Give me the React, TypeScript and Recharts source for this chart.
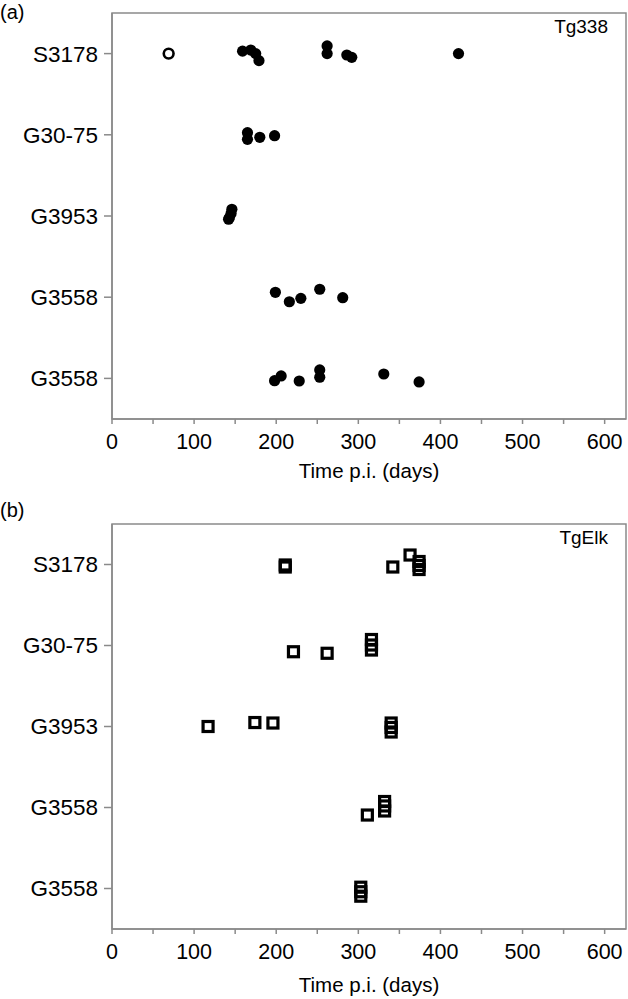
import { ScatterChart, Scatter, XAxis, YAxis, ReferenceArea } from "recharts";

// row labels, top to bottom
const categories = ["S3178", "G30-75", "G3953", "G3558", "G3558"];
const xTicks = [0, 50, 100, 150, 200, 250, 300, 350, 400, 450, 500, 550, 600];

// (a) Tg338 — days per row, plus small vertical jitter (fraction of a row)
const tg338Days = [
  [159, 169, 175, 179, 262, 262, 286, 292, 422],
  [165, 165, 180, 198],
  [146, 145, 143, 142],
  [199, 216, 230, 253, 281],
  [198, 206, 228, 253, 253, 331, 374],
];
const tg338Jitter = [
  [-0.03, -0.044, 0, 0.087, -0.094, 0, 0.017, 0.046, 0],
  [-0.026, 0.056, 0.031, 0.011],
  [-0.083, -0.03, 0.02, 0.04],
  [-0.06, 0.056, 0.014, -0.098, 0.006],
  [0.028, -0.03, 0.032, -0.104, -0.014, -0.054, 0.044],
];
const tg338OpenDays = [[69], [], [], [], []];
const tg338OpenJitter = [[0], [], [], [], []];

// (b) TgElk
const tgElkDays = [
  [211, 211, 342, 363, 374, 374, 374],
  [221, 262, 316, 316, 316],
  [117, 174, 196, 340, 340, 340],
  [311, 332, 332, 332],
  [303, 303, 303],
];
const tgElkJitter = [
  [0.006, 0.031, 0.031, -0.117, -0.037, 0.012, 0.062],
  [0.077, 0.096, -0.074, -0.006, 0.056],
  [0, -0.049, -0.043, -0.043, 0.012, 0.068],
  [0.093, -0.074, -0.019, 0.043],
  [-0.016, 0.04, 0.095],
];

const FONT = "'Liberation Sans', Arial, sans-serif";
const AXIS = "#8a8a8a";

function toPoints(days: number[][], jitter: number[][]) {
  const out: { x: number; y: number }[] = [];
  days.forEach((row, i) => row.forEach((d, j) => out.push({ x: d, y: i + 1 + jitter[i][j] })));
  return out;
}

const FilledDot = (p: any) => <circle cx={p.cx} cy={p.cy} r={5.6} fill="#000" />;
const OpenDot = (p: any) => <circle cx={p.cx} cy={p.cy} r={4.9} fill="#fff" stroke="#000" strokeWidth={2.6} />;
const OpenSquare = (p: any) => (
  <rect x={p.cx - 5} y={p.cy - 5} width={10} height={10} fill="none" stroke="#000" strokeWidth={3.2} />
);

function Panel({ top, height, bottomPad, xAxisHeight, labelOffset, children }: any) {
  return (
    <ScatterChart
      width={628}
      height={height}
      margin={{ top, right: 2, left: 0, bottom: bottomPad }}
      style={{ fontFamily: FONT }}
    >
      <XAxis
        type="number"
        dataKey="x"
        domain={[0, 626]}
        ticks={xTicks}
        interval={0}
        tickFormatter={(v: number) => (v % 100 === 0 ? String(v) : "")}
        tick={{ fill: "#000", fontSize: 21.5 }}
        tickSize={5}
        tickMargin={10}
        stroke={AXIS}
        strokeWidth={1.5}
        height={xAxisHeight}
        label={{ value: "Time p.i. (days)", position: "insideBottom", offset: labelOffset, fill: "#000", fontSize: 20.5 }}
      />
      <YAxis
        type="number"
        dataKey="y"
        domain={[0.5, 5.5]}
        reversed
        ticks={[1, 2, 3, 4, 5]}
        interval={0}
        tickFormatter={(v: number) => categories[v - 1]}
        tick={{ fill: "#000", fontSize: 22.5 }}
        tickSize={8}
        tickMargin={6}
        stroke={AXIS}
        strokeWidth={1.5}
        width={112}
      />
      <ReferenceArea x1={0} x2={626} y1={0.5} y2={5.5} fill="none" stroke={AXIS} strokeWidth={1.5} />
      {children}
    </ScatterChart>
  );
}

export default function App() {
  const text = { position: "absolute" as const, fontFamily: FONT, color: "#000", lineHeight: "20px" };
  return (
    <div style={{ position: "absolute", left: 0, top: 0, width: 628, height: 999, background: "#fff" }}>
      <div style={{ position: "absolute", left: 0, top: 0 }}>
        <Panel top={13} height={500} bottomPad={22} xAxisHeight={59} labelOffset={0}>
          <Scatter data={toPoints(tg338Days, tg338Jitter)} shape={FilledDot} isAnimationActive={false} />
          <Scatter data={toPoints(tg338OpenDays, tg338OpenJitter)} shape={OpenDot} isAnimationActive={false} />
        </Panel>
      </div>
      <div style={{ position: "absolute", left: 0, top: 500 }}>
        <Panel top={24} height={499} bottomPad={6} xAxisHeight={64} labelOffset={1}>
          <Scatter data={toPoints(tgElkDays, tgElkJitter)} shape={OpenSquare} isAnimationActive={false} />
        </Panel>
      </div>
      <div style={{ ...text, left: 0, top: 2, fontSize: 20 }}>(a)</div>
      <div style={{ ...text, left: 0, top: 500, fontSize: 20 }}>(b)</div>
      <div style={{ ...text, right: 20, top: 17, fontSize: 19 }}>Tg338</div>
      <div style={{ ...text, right: 20, top: 528, fontSize: 19 }}>TgElk</div>
    </div>
  );
}
